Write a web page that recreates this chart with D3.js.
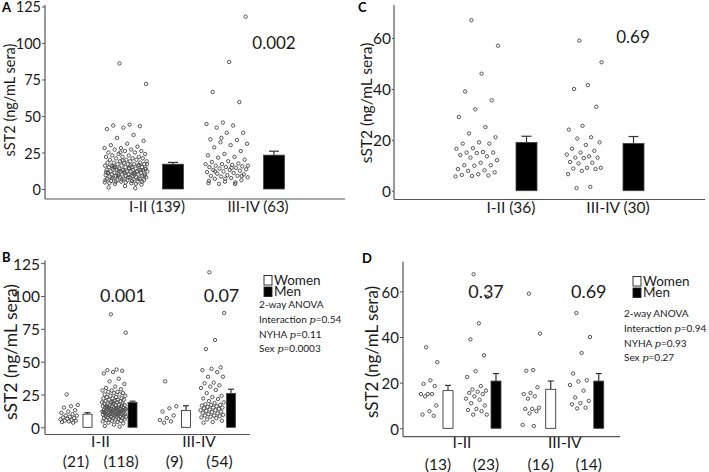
<!DOCTYPE html>
<html><head><meta charset="utf-8">
<script src="https://cdn.jsdelivr.net/npm/d3@7"></script>
<style>body{margin:0;background:#fff}svg{display:block;font-family:Lato,"Open Sans",sans-serif}</style>
</head><body><svg id="c" width="709" height="472"></svg>
<script>
// ---------------- DATA ----------------
const nyhaClasses = ["I-II", "III-IV"];
const sexes = ["Women", "Men"];
const yTicksAB = [0, 25, 50, 75, 100, 125];
const yTicksCD = [0, 20, 40, 60];

// Panel A/B (sST2 ng/mL) individual values
const womenI_AB = [25, 17, 16, 15, 13, 12, 11, 10, 9, 9, 8, 7.5, 7, 6.5, 6, 5.5, 5, 5, 4.5, 4, 3.5];
const womenIII_AB = [35, 16, 14.5, 12, 9, 7, 5.5, 4.5, 3.5];
const menI_AB = [86, 72, 44, 43.5, 43, 42, 41, 37, 35, 33,
  31, 30, 29, 28, 28, 27, 27, 26, 26, 25,
  25, 24, 24, 23, 23, 22, 22, 22, 21, 21,
  21, 20, 20, 20, 19, 19, 19, 18, 18, 18,
  18, 17, 17, 17, 17, 16, 16, 16, 16, 15,
  15, 15, 15, 15, 14, 14, 14, 14, 14, 13,
  13, 13, 13, 13, 13, 12, 12, 12, 12, 12,
  12, 11, 11, 11, 11, 11, 10, 10, 10, 10,
  10, 10, 9.5, 9, 9, 9, 9, 8.5, 8, 8,
  8, 8, 7.5, 7, 7, 7, 6.5, 6, 6, 6,
  5.5, 5, 5, 4.5, 4, 3.5, 3, 2, 1, 0.5,
  12.5, 13.5, 14.5, 15.5, 16.5, 19.5, 11.5, 10.5];
const menIII_AB = [118, 87, 66.5, 59.5, 45.5, 44.5, 43.5, 42, 38.5, 38.5,
  34, 33.5, 32, 31, 30, 28.5, 26, 24, 23, 22,
  21.5, 20, 19, 18.5, 17.5, 17, 17, 16.5, 16, 15.5,
  15, 15, 14.5, 14, 13.5, 13, 13, 12.5, 12, 11.5,
  11, 10.5, 10, 9.5, 9, 9, 8.5, 8, 7.5, 7,
  6, 5, 4, 3.5];
const countsA = [139, 63];
const meanA = [17, 23.2];
const errTopA = [18.2, 25.9];
const pA = "0.002";
const countsB = [[21, 118], [9, 54]];
const meanB = [[10, 18.9], [12.9, 25.8]];
const errTopB = [[11.1, 19.9], [16.4, 29]];
const pB = ["0.001", "0.07"];
const anovaB = [["Interaction", "0.54"], ["NYHA", "0.11"], ["Sex", "0.0003"]];

// Panel C/D
const allI_C = [67, 57, 46, 39, 35.5, 32, 29, 25, 22.5, 21, 19, 18.5, 18.5, 16.7, 16.5, 15.2, 15, 15,
  14.8, 14, 13.5, 13, 12, 11, 10, 10, 9.8, 8.5, 8, 7.8, 7.2, 6.5, 6.2, 6, 5.8, 5.6];
const allIII_C = [59, 50.5, 41.5, 40, 33, 25.5, 24, 21, 20.5, 19, 18, 16.5, 15.7, 15, 14.2, 13.5, 13, 13,
  12.8, 11.3, 11, 10.7, 9, 9, 8.7, 8.5, 7.8, 6.5, 1.5, 1];
const countsC = [36, 30];
const meanC = [19, 18.6];
const errTopC = [21.4, 21.3];
const pC = "0.69";
const womenI_D = [35.5, 29, 21, 19.5, 18.5, 15, 15, 15, 14, 10, 7.5, 6, 5.5];
const menI_D = [67.5, 57.5, 46, 39, 32, 25, 22.5, 18.5, 17, 16.5, 16, 15.5, 15, 14, 13, 12.5, 11, 10, 8.5, 8, 7.5, 6, 6];
const womenIII_D = [59, 41.5, 25.5, 25.2, 18, 15.5, 15, 14, 13, 9, 8.5, 8.5, 7.5, 6.5, 1.5, 1];
const menIII_D = [50.5, 40, 33, 24, 21, 20.5, 19, 16.5, 13.5, 12, 11, 10.5, 9, 8.7];
const countsD = [[13, 23], [16, 14]];
const meanD = [[16.5, 20.7], [17.1, 20.7]];
const errTopD = [[18.8, 24], [20.7, 24]];
const pD = ["0.37", "0.69"];
const anovaD = [["Interaction", "0.94"], ["NYHA", "0.93"], ["Sex", "0.27"]];

// ---------------- DRAW ----------------
const svg = d3.select("#c");
const AX = "#555", TXT = "#1a1a1a", PT = "#4d4d4d";

function jitter(i, w) { return (((i * 0.6180339887 + 0.37) % 1) - 0.5) * w; }

function frame(cfg) {
  const g = svg.append("g");
  const y = d3.scaleLinear().domain(cfg.yDomain).range(cfg.yRange);
  const ax = d3.axisLeft(y).tickValues(cfg.ticks).tickSize(cfg.tickSize).tickPadding(1).tickSizeOuter(0);
  const ga = g.append("g").attr("transform", `translate(${cfg.x0},0)`).call(ax);
  ga.select(".domain").remove();
  ga.selectAll(".tick line").attr("stroke", AX);
  ga.selectAll(".tick text").attr("fill", TXT).attr("dy", "0.38em")
    .style("font-size", cfg.tickFont + "px").style("font-family", "Lato");
  g.append("line").attr("x1", cfg.x0).attr("x2", cfg.x0).attr("y1", cfg.xAxisY).attr("y2", cfg.yRange[1])
    .attr("stroke", AX).attr("stroke-width", 1.2);
  g.append("line").attr("x1", cfg.x0).attr("x2", cfg.x1).attr("y1", cfg.xAxisY).attr("y2", cfg.xAxisY)
    .attr("stroke", AX).attr("stroke-width", 1.2);
  g.append("text").attr("transform", `translate(${cfg.ylabX},${cfg.ylabY}) rotate(-90)`)
    .attr("text-anchor", "middle").attr("fill", TXT).style("font-size", cfg.ylabFont + "px")
    .text("sST2 (ng/mL sera)");
  g.append("text").attr("x", cfg.letterX).attr("y", cfg.letterY).attr("fill", "#000")
    .style("font-size", "13px").style("font-weight", "bold").style("font-family", "Lato").text(cfg.letter);
  return {g, y};
}

function points(g, y, vals, cx, w) {
  g.append("g").selectAll("circle").data(vals).join("circle")
    .attr("cx", (d, i) => cx + jitter(i, w)).attr("cy", d => y(d)).attr("r", 1.7)
    .attr("fill", "none").attr("stroke", PT).attr("stroke-width", 0.95);
}

function bar(g, y, mean, top, cx, w, fill, cap) {
  g.append("line").attr("x1", cx).attr("x2", cx).attr("y1", y(mean)).attr("y2", y(top))
    .attr("stroke", "#333").attr("stroke-width", 1.2);
  g.append("line").attr("x1", cx - cap / 2).attr("x2", cx + cap / 2).attr("y1", y(top)).attr("y2", y(top))
    .attr("stroke", "#333").attr("stroke-width", 1.2);
  g.append("rect").attr("x", cx - w / 2).attr("width", w).attr("y", y(mean)).attr("height", y(0) - y(mean))
    .attr("fill", fill).attr("stroke", fill === "#000" ? "#444" : "#222").attr("stroke-width", 0.8);
}

function text(g, x, yy, size, s, anchor) {
  return g.append("text").attr("x", x).attr("y", yy).attr("text-anchor", anchor || "middle")
    .attr("fill", TXT).style("font-size", size + "px").text(s);
}

function legend(g, x, yTop, anX, anY0, rows) {
  [["#fff", "Women"], ["#000", "Men"]].forEach(([f, t], i) => {
    g.append("rect").attr("x", x).attr("y", yTop + i * 11.5).attr("width", 8).attr("height", 9.5)
      .attr("fill", f).attr("stroke", "#222").attr("stroke-width", 0.9);
    text(g, x + 10, yTop + i * 11.5 + 9.3, 13.5, t, "start");
  });
  text(g, anX, anY0, 10, "2-way ANOVA", "start");
  rows.forEach((r, i) => {
    const t = text(g, anX, anY0 + (i + 1) * 14.8, 10, "", "start");
    t.append("tspan").text(r[0] + " ");
    t.append("tspan").style("font-style", "italic").style("font-family", "'DejaVu Serif',serif").text("p");
    t.append("tspan").text("=" + r[1]);
  });
}

// ---- Panel A
{
  const cfg = {yDomain: [0, 126], yRange: [189, 5], ticks: yTicksAB, tickSize: 3, tickFont: 14.5, x0: 45, x1: 345,
    xAxisY: 199, ylabX: 15, ylabY: 100, ylabFont: 14.5, letter: "A", letterX: 2, letterY: 12};
  const {g, y} = frame(cfg);
  const x = d3.scalePoint().domain(nyhaClasses).range([157, 258]);
  const groups = [womenI_AB.concat(menI_AB), womenIII_AB.concat(menIII_AB)];
  nyhaClasses.forEach((c, i) => {
    points(g, y, groups[i], x(c) - 31, 43);
    bar(g, y, meanA[i], errTopA[i], x(c) + 16, 21, "#000", 10);
    text(g, x(c), 212, 15, `${c} (${countsA[i]})`);
  });
  text(g, x("III-IV") + 16, 49, 17, pA);
}
// ---- Panel C
{
  const cfg = {yDomain: [0, 73], yRange: [190.7, 5], ticks: yTicksCD, tickSize: 2, tickFont: 15.5, x0: 394, x1: 705,
    xAxisY: 199.5, ylabX: 372, ylabY: 103, ylabFont: 15.5, letter: "C", letterX: 358, letterY: 12};
  const {g, y} = frame(cfg);
  const x = d3.scalePoint().domain(nyhaClasses).range([511, 618]);
  const groups = [allI_C, allIII_C];
  nyhaClasses.forEach((c, i) => {
    points(g, y, groups[i], x(c) - 34, i === 0 ? 43 : 36);
    bar(g, y, meanC[i], errTopC[i], x(c) + 15.5, 21, "#000", 10);
    text(g, x(c), 213, 15.5, `${c} (${countsC[i]})`);
  });
  text(g, x("III-IV") + 15, 43, 17, pC);
}
// ---- Panel B
{
  const cfg = {yDomain: [0, 127], yRange: [427.3, 260.5], ticks: yTicksAB, tickSize: 4, tickFont: 15.5, x0: 45, x1: 250,
    xAxisY: 434.5, ylabX: 17, ylabY: 352, ylabFont: 17.5, letter: "B", letterX: 2, letterY: 262};
  const {g, y} = frame(cfg);
  const x = d3.scalePoint().domain(nyhaClasses).range([100.5, 199]);
  const sx = d3.scalePoint().domain(sexes).range([-22.5, 22.5]);
  const vals = [[womenI_AB, menI_AB], [womenIII_AB, menIII_AB]];
  nyhaClasses.forEach((c, i) => {
    sexes.forEach((s, j) => {
      const cx = x(c) + sx(s);
      points(g, y, vals[i][j], cx - 9, j === 0 ? 18 : 24);
      bar(g, y, meanB[i][j], errTopB[i][j], cx + 9.5, 9, j === 0 ? "#fff" : "#000", 6);
      text(g, cx - 2, 467, 15.5, `(${countsB[i][j]})`);
    });
    text(g, x(c), 447, 15.5, c);
    text(g, x(c) + sx("Men"), 302, 18, pB[i]);
  });
  legend(g, 264, 275.5, 259, 308, anovaB);
}
// ---- Panel D
{
  const cfg = {yDomain: [0, 73], yRange: [428.3, 261.7], ticks: yTicksCD, tickSize: 3, tickFont: 15, x0: 403, x1: 620,
    xAxisY: 436.7, ylabX: 378, ylabY: 352, ylabFont: 17, letter: "D", letterX: 362, letterY: 263};
  const {g, y} = frame(cfg);
  const x = d3.scalePoint().domain(nyhaClasses).range([462, 564.75]);
  const sx = d3.scalePoint().domain(sexes).range([-24, 24]);
  const vals = [[womenI_D, menI_D], [womenIII_D, menIII_D]];
  nyhaClasses.forEach((c, i) => {
    sexes.forEach((s, j) => {
      const cx = x(c) + sx(s);
      points(g, y, vals[i][j], cx - 9.5, j === 0 ? 18 : 22);
      bar(g, y, meanD[i][j], errTopD[i][j], cx + 10, 10, j === 0 ? "#fff" : "#000", 6);
      text(g, cx, 470, 15.5, `(${countsD[i][j]})`);
    });
    text(g, x(c), 448, 15.5, c);
    text(g, x(c) + sx("Men"), 298, 18, pD[i]);
  });
  legend(g, 633, 276.5, 624, 317, anovaD);
}
</script></body></html>
